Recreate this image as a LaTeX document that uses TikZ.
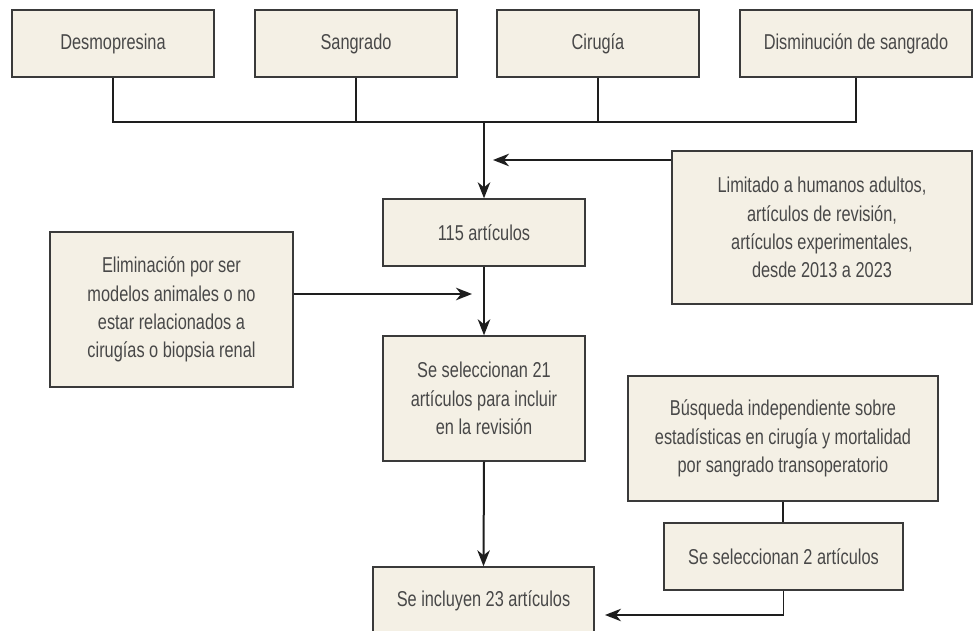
\documentclass[tikz,border=0pt]{standalone}
\usepackage{fontspec}
\setmainfont{Liberation Sans}[FakeStretch=0.76]
\usetikzlibrary{arrows.meta}
\definecolor{boxfill}{RGB}{244,240,229}
\definecolor{boxline}{RGB}{58,58,58}
\definecolor{txt}{RGB}{72,72,72}
\definecolor{conn}{RGB}{30,30,30}
\tikzset{
  box/.style={draw=boxline, line width=1.4pt, fill=boxfill, inner sep=0pt,
    align=center, text=txt, font=\fontsize{21.5}{28.3}\selectfont},
  link/.style={draw=conn, line width=2pt},
  arr/.style={link, -{Stealth[length=16pt,width=12.5pt,inset=5pt]}}
}
\begin{document}
\begin{tikzpicture}[x=1pt,y=-1pt]
\clip (0,0) rectangle (975,631);
\fill[white] (0,0) rectangle (975,631);
% top boxes
\node[box, minimum width=202pt, minimum height=67pt] (d1) at (113,43.5) {Desmopresina};
\node[box, minimum width=202pt, minimum height=67pt] (d2) at (356,43.5) {Sangrado};
\node[box, minimum width=202pt, minimum height=67pt] (d3) at (598,43.5) {Cirugía};
\node[box, minimum width=232pt, minimum height=67pt] (d4) at (856,43.5) {Disminución de sangrado};
% middle
\node[box, minimum width=300pt, minimum height=153pt] (lim) at (822,227.5)
  {Limitado a humanos adultos,\\artículos de revisión,\\artículos experimentales,\\desde 2013 a 2023};
\node[box, minimum width=202pt, minimum height=67pt] (a115) at (484,232.5) {115 artículos};
\node[box, minimum width=243pt, minimum height=155pt] (elim) at (171.5,309.5)
  {Eliminación por ser\\modelos animales o no\\estar relacionados a\\cirugías o biopsia renal};
\node[box, minimum width=202pt, minimum height=125pt] (s21) at (484,398.5)
  {Se seleccionan 21\\artículos para incluir\\en la revisión};
\node[box, minimum width=310pt, minimum height=125pt] (bus) at (783,438.5)
  {Búsqueda independiente sobre\\estadísticas en cirugía y mortalidad\\por sangrado transoperatorio};
\node[box, minimum width=239pt, minimum height=67pt] (s2) at (783.5,556.5) {Se seleccionan 2 artículos};
\node[box, minimum width=221pt, minimum height=67pt] (inc) at (483.5,600.5) {Se incluyen 23 artículos};
% coordinates
\coordinate (hl) at (113,122);
\coordinate (hr) at (856,122);
\coordinate (hm) at (484,122);
\coordinate (tipL) at (493,160);
\coordinate (tipE) at (472,294);
\coordinate (bend) at (783.5,615);
\coordinate (tipI) at (605,615);
% connectors
\draw[link, line width=1.8pt] (d1.south) -- (hl) -- (hr) -- (d4.south);
\draw[link, line width=1.8pt] (d2.south) -- (d2.south |- hl);
\draw[link, line width=1.8pt] (d3.south) -- (d3.south |- hl);
\draw[arr] (hm) -- (a115.north);
\draw[arr] (lim.west |- tipL) -- (tipL);
\draw[arr] (a115.south) -- (s21.north);
\draw[arr] (elim.east |- tipE) -- (tipE);
\draw[arr] (s21.south) -- (inc.north);
\draw[link, line width=1.6pt] (bus.south) -- (bus.south |- s2.north);
\draw[arr, line width=1.6pt] (s2.south) -- (bend) -- (tipI);
\end{tikzpicture}
\end{document}
